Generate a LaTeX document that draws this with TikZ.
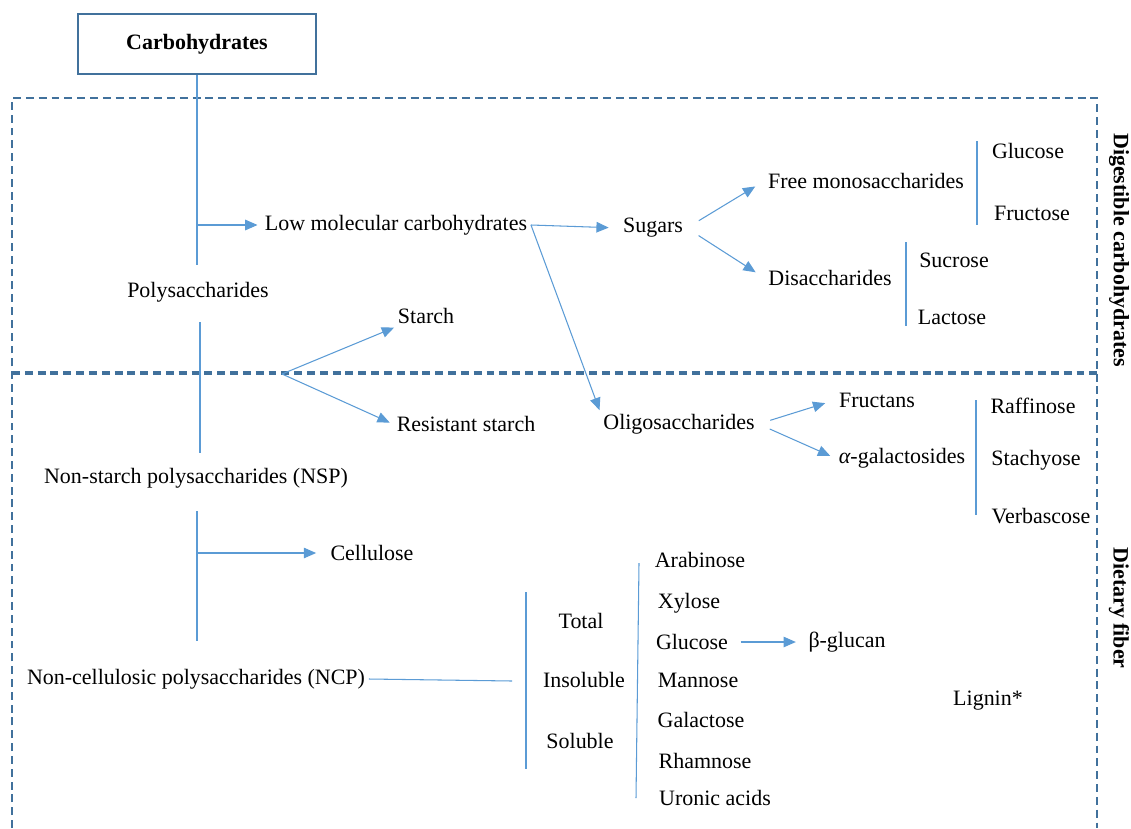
\documentclass[tikz,border=0pt]{standalone}
\usepackage{fontspec}
\setmainfont{Liberation Serif}
\usetikzlibrary{arrows.meta}
\definecolor{lineblue}{RGB}{91,155,213}
\definecolor{boxblue}{RGB}{65,113,156}

\begin{document}
\begin{tikzpicture}[x=0.02cm, y=-0.02cm,
  every node/.style={font=\fontsize{12.5}{15}\selectfont, inner sep=2pt},
  conn/.style={lineblue, line width=0.6pt},
  arr/.style={conn, -{Triangle[length=7pt, width=6pt]}},
  region/.style={boxblue, line width=1.1pt, dash pattern=on 4.5pt off 2.8pt},
  side/.style={rotate=-90, font=\fontsize{12.5}{15}\selectfont\bfseries}]

\useasboundingbox (0,0) rectangle (1131,828);

% dashed regions
\draw[region] (12,828) -- (12,98) -- (1097,98) -- (1097,828);
\draw[region, line width=2.2pt] (12,373) -- (1097,373);

\node[side] (dig) at (1119,250) {Digestible carbohydrates};
\node[side] (fib) at (1119,608) {Dietary fiber};

% top
\node[draw=boxblue, line width=1.2pt, minimum width=4.76cm, minimum height=1.2cm,
  font=\fontsize{12.5}{15}\selectfont\bfseries] (carb) at (197,44) {Carbohydrates};

\node[] (lmc) at (396,225) {Low molecular carbohydrates};
\node[] (poly) at (198,292) {Polysaccharides};

\coordinate (polytop) at (197,265);
\coordinate (lmcfork) at (197,225);
\draw[conn] (carb.south) -- (polytop);
\draw[arr, shorten >=2pt] (lmcfork) -- (lmc.west);

% sugars
\node[] (sug) at (653,228) {Sugars};
\node[] (fmono) at (866,181) {Free monosaccharides};
\node[] (disa) at (830,278) {Disaccharides};

\draw[arr, shorten >=6pt] (lmc.east) -- (sug.west);
\draw[arr, shorten <=8pt, shorten >=6pt] (sug.east) -- (fmono.west);
\draw[arr, shorten <=8pt, shorten >=6pt] (sug.east) -- (disa.west);

\node[] (glu1) at (1028,151) {Glucose};
\node[] (fru) at (1032,213) {Fructose};
\draw[conn] (977,141) -- (977,225);

\node[] (suc) at (954,260) {Sucrose};
\node[] (lac) at (952,317) {Lactose};
\draw[conn] (906,242) -- (906,326);

% starch
\node[] (starch) at (426,316) {Starch};
\node[] (rstarch) at (466,424) {Resistant starch};
\coordinate (starchfork) at (282,374);
\draw[arr] (starchfork) -- (starch.south west);
\draw[arr, shorten >=2pt] (starchfork) -- (rstarch.west);

% oligosaccharides
\node[] (oligo) at (679,424) {Oligosaccharides};
\node[] (fruct) at (877,400) {Fructans};
\node[] (agal) at (902,458) {{\itshape α}-galactosides};
\draw[arr] (lmc.east) -- (oligo.north west);
\draw[arr, shorten <=7pt, shorten >=6pt] (oligo.east) -- (fruct.west);
\draw[arr, shorten <=7pt, shorten >=3pt] (oligo.east) -- (agal.west);

\node[] (raf) at (1033,406) {Raffinose};
\node[] (sta) at (1036,460) {Stachyose};
\node[] (ver) at (1041,516) {Verbascose};
\draw[conn] (976,400) -- (976,515);

% NSP
\node[] (nsp) at (196,478) {Non-starch polysaccharides (NSP)};
\coordinate (polylow) at (200,322);
\coordinate (nsphigh) at (200,453);
\draw[conn] (polylow) -- (nsphigh);

\node[] (cell) at (372,553) {Cellulose};
\coordinate (nsplow) at (197,511);
\coordinate (ncphigh) at (197,641);
\coordinate (cellfork) at (197,553);
\draw[conn] (nsplow) -- (ncphigh);
\draw[arr, shorten >=6pt] (cellfork) -- (cell.west);

% NCP
\node[] (ncp) at (196,679) {Non-cellulosic polysaccharides (NCP)};
\coordinate (ncpend) at (512,681);
\draw[conn] (ncp.east) -- (ncpend);
\draw[conn] (526,592) -- (526,769);

\node[] (tot) at (581,621) {Total};
\node[] (ins) at (584,680) {Insoluble};
\node[] (sol) at (580,741) {Soluble};
\draw[conn] (639,563) -- (636,798);

\node[] (ara) at (700,560) {Arabinose};
\node[] (xyl) at (689,603) {Xylose};
\node[] (glu2) at (692,642) {Glucose};
\node[] (man) at (698,680) {Mannose};
\node[] (gal) at (701,720) {Galactose};
\node[] (rha) at (705,761) {Rhamnose};
\node[] (uro) at (715,798) {Uronic acids};

\node[] (bglu) at (847,642) {β-glucan};
\draw[arr, shorten <=5pt, shorten >=5pt] (glu2.east) -- (bglu.west |- glu2.east);

\node[] (lig) at (988,701) {Lignin*};
\end{tikzpicture}
\end{document}
